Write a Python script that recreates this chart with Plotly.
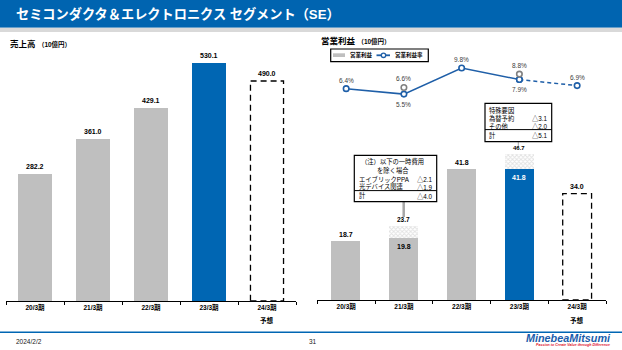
import plotly.graph_objects as go

# ---------------- data ----------------
categories = ["20/3期", "21/3期", "22/3期", "23/3期", "24/3期"]
forecast_note = "予想"
sales = [282.2, 361.0, 429.1, 530.1, 490.0]
op_income = [18.7, 19.8, 41.8, 41.8, 34.0]
op_income_excl = [None, 23.7, None, 46.7, None]   # excluding one-time items
op_margin = [6.4, 5.5, 9.8, 7.9, 6.9]
op_margin_excl = [None, 6.6, None, 8.8, None]
note1_head = ["（注）以下の一時費用", "を除く場合"]
note1_rows = [("エイブリックPPA", "△2.1"), ("光デバイス関連", "△1.9"), ("計", "△4.0")]
note2_head = ["特殊要因"]
note2_rows = [("為替予約", "△3.1"), ("その他", "△2.0"), ("計", "△5.1")]

# ---------------- style ----------------
W, H = 622, 350
def px(x): return x / W
def py(y): return 1 - y / H

GRAY = "#BFBFBF"
BLUE = "#0066B3"
LINE_BLUE = "#1F5FA8"
FONT = "Liberation Sans, Arial, Noto Sans CJK JP, sans-serif"
n = len(categories)
latest_actual = 3
forecast_idx = 4

def bar_colors():
    cols = []
    for i in range(n):
        if i == forecast_idx:
            cols.append("rgba(0,0,0,0)")
        elif i == latest_actual:
            cols.append(BLUE)
        else:
            cols.append(GRAY)
    return cols

fig = go.Figure()

# left: sales
fig.add_trace(go.Bar(x=categories, y=sales, marker=dict(color=bar_colors(), line=dict(width=0)),
                     width=0.57, xaxis="x", yaxis="y", hoverinfo="skip"))
# right: operating income
fig.add_trace(go.Bar(x=categories, y=op_income, marker=dict(color=bar_colors(), line=dict(width=0)),
                     width=0.5, xaxis="x2", yaxis="y2", hoverinfo="skip"))
extra = [(e - b) if e is not None else None for e, b in zip(op_income_excl, op_income)]
fig.add_trace(go.Bar(x=categories, y=extra,
                     marker=dict(color="white", line=dict(width=0),
                                 pattern=dict(shape="x", fgcolor="#C4C4C4", bgcolor="white", size=3, solidity=0.5)),
                     width=0.5, xaxis="x2", yaxis="y2", hoverinfo="skip"))

# margin line
fig.add_trace(go.Scatter(x=categories[:forecast_idx], y=op_margin[:forecast_idx], mode="lines+markers",
                         line=dict(color=LINE_BLUE, width=1.5),
                         marker=dict(symbol="circle", size=5.5, color="white", line=dict(color=LINE_BLUE, width=1.6)),
                         xaxis="x2", yaxis="y3", hoverinfo="skip"))
fig.add_trace(go.Scatter(x=categories[latest_actual:], y=op_margin[latest_actual:], mode="lines+markers",
                         line=dict(color=LINE_BLUE, width=1.5, dash="4px,3px"),
                         marker=dict(symbol="circle", size=5.5, color="white", line=dict(color=LINE_BLUE, width=1.6)),
                         xaxis="x2", yaxis="y3", hoverinfo="skip"))
fig.add_trace(go.Scatter(x=categories, y=op_margin_excl, mode="markers",
                         marker=dict(symbol="circle", size=5.5, color="white", line=dict(color="#808080", width=1.6)),
                         xaxis="x2", yaxis="y3", hoverinfo="skip"))

shapes = []
ann = []

# dashed forecast boxes
shapes.append(dict(type="rect", xref="x", yref="y", x0=forecast_idx - 0.285, x1=forecast_idx + 0.285,
                   y0=0, y1=sales[forecast_idx], line=dict(color="black", width=1.3, dash="6px,4px")))
shapes.append(dict(type="rect", xref="x2", yref="y2", x0=forecast_idx - 0.25, x1=forecast_idx + 0.25,
                   y0=0, y1=op_income[forecast_idx], line=dict(color="black", width=1.3, dash="6px,4px")))

# value labels: sales
for c, v in zip(categories, sales):
    ann.append(dict(x=c, y=v, xref="x", yref="y", text=f"<b>{v:.1f}</b>", showarrow=False,
                    yanchor="bottom", yshift=2, font=dict(size=7, color="black")))
# value labels: operating income
for i, (c, v, e) in enumerate(zip(categories, op_income, op_income_excl)):
    if e is None:
        ann.append(dict(x=c, y=v, xref="x2", yref="y2", text=f"<b>{v:.1f}</b>", showarrow=False,
                        yanchor="bottom", yshift=1.5, font=dict(size=7, color="black")))
    else:
        ann.append(dict(x=c, y=e, xref="x2", yref="y2", text=f"<b>{e:.1f}</b>", showarrow=False,
                        yanchor="bottom", yshift=1, font=dict(size=6 if i == latest_actual else 6.5, color="black")))
        ann.append(dict(x=c, y=v, xref="x2", yref="y2", text=f"<b>{v:.1f}</b>", showarrow=False,
                        yanchor="top", yshift=-3,
                        font=dict(size=7, color="white" if i == latest_actual else "black")))

# percent labels
below = {1, 3}
for i, (c, v) in enumerate(zip(categories, op_margin)):
    ann.append(dict(x=c, y=v, xref="x2", yref="y3", text=f"{v:.1f}%", showarrow=False,
                    yanchor="middle", yshift=(-10 if i in below else 8.5), font=dict(size=6.5, color="#404040")))
for c, v in zip(categories, op_margin_excl):
    if v is not None:
        ann.append(dict(x=c, y=v, xref="x2", yref="y3", text=f"{v:.1f}%", showarrow=False,
                        yanchor="middle", yshift=8.5, font=dict(size=6.5, color="#404040")))

# forecast note under axes
for xr in ("x", "x2"):
    ann.append(dict(x=categories[forecast_idx], xref=xr, y=py(319.5), yref="paper", text=f"<b>{forecast_note}</b>",
                    showarrow=False, yanchor="middle", font=dict(size=6.5, color="black")))

# header bar
shapes.append(dict(type="rect", xref="paper", yref="paper", x0=0, x1=1, y0=py(27.7), y1=1,
                   fillcolor="#0064B0", line=dict(width=0), layer="below"))
shapes.append(dict(type="rect", xref="paper", yref="paper", x0=0, x1=1, y0=py(32), y1=py(27.7),
                   fillcolor="#D9D9D9", line=dict(width=0), layer="below"))
ann.append(dict(x=px(14), y=py(14.5), xref="paper", yref="paper", xanchor="left", yanchor="middle",
                text="<b>セミコンダクタ＆エレクトロニクス セグメント（SE）</b>", showarrow=False,
                font=dict(size=13.2, color="white")))

# section titles
ann.append(dict(x=px(8), y=py(43.5), xref="paper", yref="paper", xanchor="left", yanchor="middle",
                text="<b>売上高</b> <span style='font-size:6.5px'><b>（10億円）</b></span>", showarrow=False,
                font=dict(size=8.5, color="black")))
ann.append(dict(x=px(319), y=py(41), xref="paper", yref="paper", xanchor="left", yanchor="middle",
                text="<b>営業利益</b> <span style='font-size:6.5px'><b>（10億円）</b></span>", showarrow=False,
                font=dict(size=8.5, color="black")))

# manual legend
shapes.append(dict(type="rect", xref="paper", yref="paper", x0=px(330.7), x1=px(428.3), y0=py(61.7), y1=py(49),
                   line=dict(color="black", width=1.2), fillcolor="white"))
shapes.append(dict(type="rect", xref="paper", yref="paper", x0=px(333), x1=px(345), y0=py(57), y1=py(53.3),
                   fillcolor=GRAY, line=dict(width=0)))
shapes.append(dict(type="line", xref="paper", yref="paper", x0=px(376.5), x1=px(390), y0=py(55.3), y1=py(55.3),
                   line=dict(color=LINE_BLUE, width=1.8)))
shapes.append(dict(type="circle", xref="paper", yref="paper", x0=px(381.3), x1=px(385.7), y0=py(57.5), y1=py(53.1),
                   fillcolor="white", line=dict(color=LINE_BLUE, width=1.3)))
ann.append(dict(x=px(348), y=py(55.3), xref="paper", yref="paper", xanchor="left", yanchor="middle",
                text="<b>営業利益</b>", showarrow=False, font=dict(size=5.5, color="black")))
ann.append(dict(x=px(392.5), y=py(55.3), xref="paper", yref="paper", xanchor="left", yanchor="middle",
                text="<b>営業利益率</b>", showarrow=False, font=dict(size=5.5, color="black")))

# note box 1
NF = dict(size=6.3, color="black")
shapes.append(dict(type="line", xref="paper", yref="paper", x0=px(403.7), x1=px(403.7), y0=py(201.7), y1=py(217),
                   line=dict(color="#A6A6A6", width=2.5)))
shapes.append(dict(type="rect", xref="paper", yref="paper", x0=px(354.3), x1=px(436.7), y0=py(201.7), y1=py(155.3),
                   line=dict(color="black", width=1.2), fillcolor="white"))
shapes.append(dict(type="line", xref="paper", yref="paper", x0=px(354.3), x1=px(436.7), y0=py(190.6), y1=py(190.6),
                   line=dict(color="black", width=1)))
for t, yy in zip(note1_head, [161.7, 170.2]):
    ann.append(dict(x=px(392.5), y=py(yy), xref="paper", yref="paper", xanchor="center", yanchor="middle",
                    text=t, showarrow=False, font=NF))
for (lab, val), yy in zip(note1_rows, [178.5, 186.8, 195.6]):
    ann.append(dict(x=px(356.5), y=py(yy), xref="paper", yref="paper", xanchor="left", yanchor="middle",
                    text=lab, showarrow=False, font=NF))
    ann.append(dict(x=px(435), y=py(yy), xref="paper", yref="paper", xanchor="right", yanchor="middle",
                    text=val, showarrow=False, font=NF))

# note box 2
shapes.append(dict(type="line", xref="paper", yref="paper", x0=px(518.3), x1=px(518.3), y0=py(141.7), y1=py(148),
                   line=dict(color="#A6A6A6", width=1)))
shapes.append(dict(type="rect", xref="paper", yref="paper", x0=px(485), x1=px(551.7), y0=py(141.7), y1=py(103.3),
                   line=dict(color="black", width=1.2), fillcolor="white"))
shapes.append(dict(type="line", xref="paper", yref="paper", x0=px(485), x1=px(551.7), y0=py(129.6), y1=py(129.6),
                   line=dict(color="black", width=1)))
for t, yy in zip(note2_head, [110]):
    ann.append(dict(x=px(487), y=py(yy), xref="paper", yref="paper", xanchor="left", yanchor="middle",
                    text=t, showarrow=False, font=NF))
for (lab, val), yy in zip(note2_rows, [118.3, 126.3, 135.2]):
    ann.append(dict(x=px(487), y=py(yy), xref="paper", yref="paper", xanchor="left", yanchor="middle",
                    text=lab, showarrow=False, font=NF))
    ann.append(dict(x=px(550.3), y=py(yy), xref="paper", yref="paper", xanchor="right", yanchor="middle",
                    text=val, showarrow=False, font=NF))

# footer
shapes.append(dict(type="line", xref="paper", yref="paper", x0=0, x1=1, y0=py(332.3), y1=py(332.3),
                   line=dict(color=BLUE, width=1.5)))
ann.append(dict(x=px(14), y=py(341), xref="paper", yref="paper", xanchor="left", yanchor="middle",
                text="2024/2/2", showarrow=False, font=dict(size=6.5, color="#202020")))
ann.append(dict(x=px(313), y=py(341), xref="paper", yref="paper", xanchor="center", yanchor="middle",
                text="31", showarrow=False, font=dict(size=6.5, color="#202020")))
ann.append(dict(x=px(613), y=py(338), xref="paper", yref="paper", xanchor="right", yanchor="middle",
                text="<b><i>MinebeaMitsumi</i></b>", showarrow=False, font=dict(size=10.8, color="#1A5DAB")))
ann.append(dict(x=px(612), y=py(345), xref="paper", yref="paper", xanchor="right", yanchor="middle",
                text="<b><i>Passion to Create Value through Difference</i></b>", showarrow=False,
                font=dict(size=3.6, color="#E0102B")))

xcommon = dict(type="category", range=[-0.5, n - 0.5], tickson="boundaries", ticks="outside", ticklen=3,
               tickcolor="black", tickwidth=1.3, showline=True, linecolor="black", linewidth=1.3,
               showgrid=False, zeroline=False, fixedrange=True,
               tickfont=dict(size=6.5, color="black", weight="bold"))

fig.update_layout(
    width=W, height=H, margin=dict(l=0, r=0, t=0, b=0),
    paper_bgcolor="white", plot_bgcolor="white",
    font=dict(family=FONT, color="black"),
    showlegend=False, barmode="stack", bargap=0,
    xaxis=dict(domain=[px(6), px(296)], anchor="y", **xcommon),
    yaxis=dict(domain=[py(301), py(45)], range=[0, 256 / 0.449], visible=False, fixedrange=True),
    xaxis2=dict(domain=[px(317.3), px(606)], anchor="y2", **xcommon),
    yaxis2=dict(domain=[py(300), py(100)], range=[0, 200 / 3.13], visible=False, fixedrange=True),
    yaxis3=dict(domain=[py(127.5), py(55)], anchor="x2", range=[0, 72.5 / 6.07], visible=False, fixedrange=True),
    shapes=shapes, annotations=ann,
)

fig.write_html("out.html")
